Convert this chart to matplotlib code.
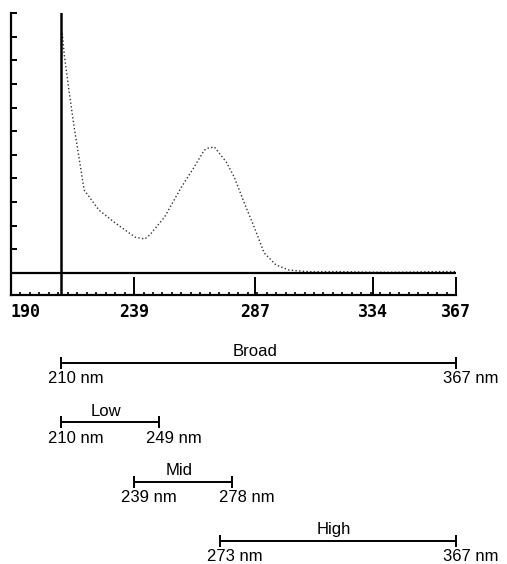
import matplotlib.pyplot as plt
import numpy as np

# spectrum (wavelength nm, absorbance in tick units)
wavelength = [210.4, 211.2, 213.2, 215.1, 219.1, 225.0, 231.4, 239.3, 243.2, 245.2,
              251.1, 257.8, 262.6, 266.9, 268.5, 270.9, 275.6, 278.8, 282.8, 286.7,
              290.7, 295.4, 300.5, 305.3, 310, 320, 330, 340, 350, 360, 367]
absorbance = [10.15, 9.22, 7.61, 6.18, 3.51, 2.66, 2.12, 1.52, 1.44, 1.61,
              2.37, 3.64, 4.44, 5.20, 5.29, 5.33, 4.70, 4.06, 2.96, 1.95,
              0.85, 0.34, 0.13, 0.08, 0.05, 0.06, 0.04, 0.03, 0.04, 0.06, 0.06]

tick_values = [190, 239, 287, 334, 367]
tick_labels = ['190', '239', '287', '334', '367']

range_names = ['Broad', 'Low', 'Mid', 'High']
range_start = [210, 210, 239, 273]
range_end = [367, 249, 278, 367]

W, H = 507, 564
fig = plt.figure(figsize=(W / 100, H / 100), dpi=100, facecolor='white')

# spectrum panel
ax = fig.add_axes([11 / W, 1 - 295 / H, 445 / W, 282 / H])
ax.plot(wavelength, absorbance, color='#333333', lw=1.0, ls=':')
ax.axhline(0, color='black', lw=1.6)
ax.axvline(210, color='black', lw=1.8)
ax.set_xlim(190, 367)
ax.set_ylim(-0.93, 11)
for s in ['top', 'right']:
    ax.spines[s].set_visible(False)
for s in ['left', 'bottom']:
    ax.spines[s].set_linewidth(1.6)

ax.set_xticks(tick_values)
ax.set_xticklabels(tick_labels, fontfamily='DejaVu Sans Mono', fontweight='bold', fontsize=12)
ax.get_xticklabels()[0].set_ha('left')
ax.set_xticks(np.linspace(190, 367, 48), minor=True)
ax.tick_params(axis='x', which='major', direction='in', length=13, width=1.4, pad=6)
ax.tick_params(axis='x', which='minor', direction='in', length=2.5, width=1.2)
ax.set_yticks(np.arange(0, 12))
ax.set_yticklabels([])
ax.tick_params(axis='y', direction='in', length=4.5, width=1.4)

# wavelength ranges panel
ax2 = fig.add_axes([11 / W, 0, 445 / W, 234 / H])
ax2.set_xlim(190, 367)
ax2.set_ylim(3.388, -0.556)
ax2.axis('off')
rows = np.arange(len(range_names))
ax2.hlines(rows, range_start, range_end, color='black', lw=1.4)
ax2.plot(range_start, rows, marker='|', ms=9, mew=1.4, color='black', ls='none')
ax2.plot(range_end, rows, marker='|', ms=9, mew=1.4, color='black', ls='none')

font = dict(family='Liberation Sans', fontsize=12, clip_on=False)
for r, name, a, b in zip(rows, range_names, range_start, range_end):
    ax2.annotate(name, ((a + b) / 2, r), xytext=(-4, 11), textcoords='offset pixels',
                 ha='center', va='center', **font)
    ax2.annotate(f'{a} nm', (a, r), xytext=(15, -16), textcoords='offset pixels',
                 ha='center', va='center', **font)
    ax2.annotate(f'{b} nm', (b, r), xytext=(15, -16), textcoords='offset pixels',
                 ha='center', va='center', **font)

fig.savefig('out.png', dpi=100, facecolor='white')
